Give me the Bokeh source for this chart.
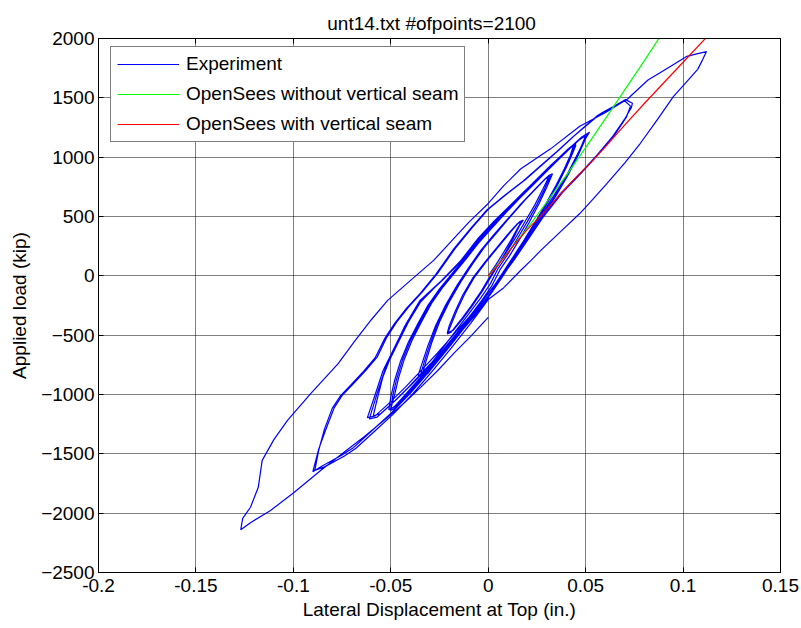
from bokeh.plotting import figure
from bokeh.models import (Range1d, LinearAxis, FixedTicker, CustomJSTickFormatter,
                          Legend, LegendItem)
from bokeh.embed import file_html
from bokeh.resources import INLINE

# ---------------- data ----------------
x_ticks = [-0.2, -0.15, -0.1, -0.05, 0.0, 0.05, 0.1, 0.15]
y_ticks = [-2500, -2000, -1500, -1000, -500, 0, 500, 1000, 1500, 2000]

cycle_1a = [(0.000, 0), (0.004, 95), (0.008, 200), (0.012, 310), (0.015, 400), (0.017, 455),
            (0.015, 440), (0.010, 350), (0.004, 230), (-0.002, 110), (-0.008, -20), (-0.013, -160),
            (-0.017, -300), (-0.020, -420), (-0.021, -480), (-0.018, -460), (-0.013, -360),
            (-0.008, -250), (-0.003, -130), (0.001, -20)]
cycle_1b = [(0.005, 90), (0.009, 200), (0.013, 320), (0.016, 420), (0.018, 470), (0.016, 455),
            (0.011, 360), (0.005, 240), (-0.001, 120), (-0.007, -10), (-0.012, -150), (-0.016, -290),
            (-0.019, -410), (-0.021, -490), (-0.019, -475), (-0.014, -370), (-0.009, -260),
            (-0.004, -140), (0.000, -30)]
cycle_2a = [(0.004, 70), (0.009, 190), (0.014, 320), (0.019, 460), (0.024, 600), (0.028, 730),
            (0.031, 830), (0.029, 815), (0.024, 730), (0.017, 610), (0.010, 480), (0.003, 350),
            (-0.004, 210), (-0.010, 70), (-0.016, -80), (-0.022, -250), (-0.027, -420),
            (-0.031, -590), (-0.034, -740), (-0.036, -840), (-0.033, -820), (-0.028, -710),
            (-0.022, -580), (-0.016, -450), (-0.010, -320), (-0.004, -190), (0.001, -70)]
cycle_2b = [(0.005, 60), (0.010, 180), (0.015, 315), (0.020, 455), (0.025, 600), (0.029, 735),
            (0.032, 845), (0.030, 830), (0.025, 745), (0.018, 625), (0.011, 495), (0.004, 360),
            (-0.003, 225), (-0.009, 85), (-0.015, -65), (-0.021, -235), (-0.026, -405),
            (-0.030, -580), (-0.033, -735), (-0.035, -850), (-0.032, -830), (-0.027, -720),
            (-0.021, -590), (-0.015, -460), (-0.009, -330), (-0.003, -200), (0.002, -80)]
cycle_2c = [(0.006, 50), (0.011, 170), (0.016, 305), (0.021, 450), (0.026, 605), (0.030, 745),
            (0.033, 860), (0.031, 845), (0.026, 760), (0.019, 640), (0.012, 510), (0.005, 375),
            (-0.002, 240), (-0.008, 100), (-0.014, -50), (-0.020, -220), (-0.025, -390),
            (-0.029, -565), (-0.032, -725), (-0.034, -845), (-0.031, -825), (-0.026, -715),
            (-0.020, -585), (-0.014, -455), (-0.008, -325), (-0.002, -195), (0.003, -85)]
cycle_3a = [(0.006, -10), (0.012, 140), (0.018, 290), (0.024, 450), (0.030, 620), (0.035, 770),
            (0.039, 900), (0.042, 1010), (0.044, 1110), (0.041, 1070), (0.035, 975), (0.028, 860),
            (0.021, 745), (0.014, 630), (0.007, 510), (0.000, 385), (-0.007, 255), (-0.013, 130),
            (-0.019, 10), (-0.025, -110), (-0.031, -250), (-0.036, -400), (-0.041, -560),
            (-0.045, -720), (-0.048, -880), (-0.050, -1020), (-0.051, -1130), (-0.048, -1100),
            (-0.042, -990), (-0.035, -860), (-0.028, -720), (-0.021, -580), (-0.014, -440),
            (-0.007, -300), (0.000, -150)]
cycle_3b = [(0.006, -20), (0.012, 130), (0.018, 285), (0.024, 445), (0.030, 615), (0.035, 765),
            (0.039, 895), (0.042, 1005), (0.045, 1115), (0.042, 1080), (0.036, 985), (0.029, 870),
            (0.022, 755), (0.015, 640), (0.008, 520), (0.001, 395), (-0.006, 265), (-0.012, 140),
            (-0.018, 20), (-0.024, -100), (-0.030, -240), (-0.035, -390), (-0.040, -550),
            (-0.044, -710), (-0.047, -870), (-0.049, -1010), (-0.050, -1135), (-0.047, -1105),
            (-0.041, -995), (-0.034, -865), (-0.027, -725), (-0.020, -585), (-0.013, -445),
            (-0.006, -305), (0.001, -160)]
cycle_3c = [(0.007, -15), (0.013, 135), (0.019, 295), (0.025, 460), (0.031, 630), (0.036, 780),
            (0.040, 910), (0.043, 1020), (0.045, 1100), (0.043, 1090), (0.037, 995), (0.030, 880),
            (0.023, 765), (0.016, 650), (0.009, 530), (0.002, 405), (-0.005, 275), (-0.011, 150),
            (-0.017, 30), (-0.023, -90), (-0.029, -230), (-0.034, -380), (-0.039, -540),
            (-0.043, -700), (-0.046, -860), (-0.048, -1000), (-0.050, -1120), (-0.047, -1095),
            (-0.041, -985), (-0.034, -855), (-0.027, -715), (-0.020, -575), (-0.013, -435),
            (-0.006, -295), (0.001, -150)]
cycle_3d = [(0.007, -5), (0.014, 150), (0.021, 320), (0.028, 500), (0.035, 680), (0.041, 850),
            (0.046, 1010), (0.049, 1120), (0.051, 1200), (0.048, 1170), (0.042, 1080), (0.035, 970),
            (0.027, 845), (0.019, 720), (0.011, 590), (0.003, 460), (-0.005, 320), (-0.014, 130),
            (-0.024, -40), (-0.035, -207), (-0.042, -400), (-0.048, -600), (-0.054, -800),
            (-0.058, -1000), (-0.062, -1195), (-0.058, -1180), (-0.050, -1060), (-0.042, -930),
            (-0.034, -790), (-0.026, -650), (-0.018, -500), (-0.010, -350), (-0.002, -190)]
cycle_3e = [(0.005, -40), (0.012, 120), (0.019, 295), (0.026, 475), (0.033, 660), (0.040, 840),
            (0.045, 1000), (0.049, 1130), (0.052, 1210), (0.049, 1180), (0.043, 1090), (0.036, 980),
            (0.028, 855), (0.020, 730), (0.012, 600), (0.004, 470), (-0.004, 330), (-0.013, 140),
            (-0.023, -30), (-0.034, -200), (-0.041, -390), (-0.047, -590), (-0.053, -790),
            (-0.057, -990), (-0.061, -1205), (-0.057, -1190), (-0.049, -1070), (-0.041, -940),
            (-0.033, -800), (-0.025, -660), (-0.017, -510), (-0.009, -360), (-0.001, -200)]
cycle_3f = [(0.006, -30), (0.013, 130), (0.020, 305), (0.027, 485), (0.034, 665), (0.040, 830),
            (0.045, 990), (0.048, 1100), (0.050, 1180), (0.047, 1150), (0.040, 1050), (0.032, 930),
            (0.024, 800), (0.016, 670), (0.008, 540), (0.000, 400), (-0.008, 240), (-0.017, 70),
            (-0.027, -90), (-0.037, -260), (-0.043, -430), (-0.049, -640), (-0.054, -850),
            (-0.057, -1040), (-0.059, -1180), (-0.055, -1160), (-0.047, -1040), (-0.039, -910),
            (-0.031, -775), (-0.023, -635), (-0.015, -490), (-0.007, -340), (0.000, -185)]
cycle_4a = [(0.007, 0), (0.013, 150), (0.020, 310), (0.027, 480), (0.037, 693), (0.047, 860),
            (0.056, 1022), (0.064, 1177), (0.070, 1320), (0.0735, 1420), (0.074, 1455),
            (0.0705, 1485), (0.064, 1425), (0.0577, 1367), (0.051, 1275), (0.044, 1177),
            (0.036, 1055), (0.027, 925), (0.019, 810), (0.010, 695), (0.000, 560), (-0.008, 410),
            (-0.017, 230), (-0.026, 20), (-0.034, -140), (-0.041, -265), (-0.047, -390),
            (-0.052, -516), (-0.057, -685), (-0.063, -800), (-0.069, -905), (-0.075, -1010),
            (-0.079, -1110), (-0.083, -1280), (-0.087, -1460), (-0.090, -1650), (-0.085, -1600),
            (-0.075, -1510), (-0.069, -1446), (-0.060, -1310), (-0.050, -1160), (-0.040, -990),
            (-0.030, -800), (-0.020, -600), (-0.010, -390), (0.000, -170)]
cycle_4b = [(0.008, 10), (0.014, 160), (0.021, 320), (0.028, 490), (0.038, 700), (0.048, 870),
            (0.057, 1035), (0.065, 1190), (0.071, 1340), (0.073, 1430), (0.070, 1475),
            (0.063, 1415), (0.056, 1350), (0.050, 1265), (0.043, 1165), (0.035, 1045),
            (0.026, 915), (0.018, 800), (0.009, 685), (-0.001, 550), (-0.009, 400), (-0.018, 220),
            (-0.027, 10), (-0.035, -150), (-0.042, -275), (-0.048, -400), (-0.053, -525),
            (-0.058, -690), (-0.064, -805), (-0.070, -910), (-0.076, -1015), (-0.080, -1115),
            (-0.084, -1290), (-0.087, -1470), (-0.089, -1640), (-0.084, -1610), (-0.074, -1520),
            (-0.068, -1455), (-0.059, -1320), (-0.049, -1170), (-0.039, -1000), (-0.029, -810),
            (-0.019, -610), (-0.009, -400), (0.000, -200)]
cycle_5 = [(0.008, -100), (0.0166, 45), (0.022, 130), (0.027, 214), (0.037, 370), (0.047, 525),
           (0.054, 650), (0.061, 780), (0.070, 950), (0.078, 1115), (0.087, 1320), (0.095, 1510),
           (0.101, 1620), (0.1075, 1740), (0.110, 1820), (0.112, 1890), (0.107, 1870),
           (0.102, 1850), (0.092, 1750), (0.082, 1650), (0.0715, 1490), (0.060, 1375),
           (0.047, 1260), (0.032, 1070), (0.0166, 900), (0.008, 760), (0.000, 610),
           (-0.010, 450), (-0.019, 290), (-0.028, 130), (-0.040, -40), (-0.0516, -207),
           (-0.060, -370), (-0.069, -560), (-0.077, -740), (-0.091, -990), (-0.103, -1218),
           (-0.110, -1380), (-0.116, -1555), (-0.118, -1782), (-0.122, -1950), (-0.126, -2044),
           (-0.127, -2140), (-0.122, -2080), (-0.1117, -1977), (-0.100, -1830), (-0.086, -1640),
           (-0.075, -1500), (-0.064, -1360), (-0.0516, -1193), (-0.043, -1070), (-0.0347, -940),
           (-0.026, -800), (-0.0178, -655), (-0.009, -510), (0.000, -350)]

no_seam_x = [0.0, 0.01, 0.02, 0.03, 0.04, 0.05, 0.06, 0.07, 0.08, 0.09]
no_seam_y = [0, 195, 400, 620, 845, 1080, 1320, 1565, 1810, 2060]

seam_x = [0.0, 0.005, 0.012, 0.02, 0.027, 0.035, 0.045, 0.053, 0.06, 0.07, 0.08, 0.09, 0.1, 0.112]
seam_y = [0, 90, 235, 390, 505, 650, 830, 960, 1085, 1270, 1450, 1625, 1800, 2010]

cycles = [cycle_1a, cycle_1b, cycle_2a, cycle_2b, cycle_2c, cycle_3a, cycle_3b, cycle_3c,
          cycle_3d, cycle_3e, cycle_3f, cycle_4a, cycle_4b, cycle_5]
exp_x = [pt[0] for c in cycles for pt in c]
exp_y = [pt[1] for c in cycles for pt in c]

# ---------------- figure ----------------
FONT = "Liberation Sans"
FS = "19px"

p = figure(width=801, height=628, output_backend="svg", toolbar_location=None,
           x_range=Range1d(-0.2, 0.15), y_range=Range1d(-2500, 2000),
           min_border_left=98, min_border_right=21, min_border_top=38, min_border_bottom=56,
           background_fill_color="white", border_fill_color="white")

p.title.text = "unt14.txt    #ofpoints=2100"
p.title.align = "center"
p.title.text_font = FONT
p.title.text_font_size = FS
p.title.text_font_style = "normal"
p.title.text_color = "black"

p.add_layout(LinearAxis(), "above")
p.add_layout(LinearAxis(), "right")

fmt = CustomJSTickFormatter(code="return String(Math.round(tick*100)/100);")
for ax in p.xaxis:
    ax.ticker = FixedTicker(ticks=x_ticks)
    ax.formatter = fmt
for ax in p.yaxis:
    ax.ticker = FixedTicker(ticks=y_ticks)

for ax in list(p.xaxis) + list(p.yaxis):
    ax.major_tick_in = 5
    ax.major_tick_out = 0
    ax.minor_tick_in = 0
    ax.minor_tick_out = 0
    ax.axis_line_color = "black"
    ax.major_tick_line_color = "black"
    ax.major_label_text_font = FONT
    ax.major_label_text_font_size = FS
    ax.major_label_text_color = "black"
    ax.axis_label_text_font = FONT
    ax.axis_label_text_font_size = FS
    ax.axis_label_text_font_style = "normal"
    ax.axis_label_text_color = "black"

p.above[-1].major_label_text_font_size = "0px"
p.above[-1].major_label_standoff = 0
p.right[-1].major_label_text_font_size = "0px"
p.right[-1].major_label_standoff = 0

p.below[0].axis_label = "Lateral Displacement at Top (in.)"
p.below[0].major_label_standoff = 6
p.below[0].axis_label_standoff = 4
p.left[0].axis_label = "Applied load (kip)"
p.left[0].major_label_standoff = 4
p.left[0].axis_label_standoff = 8

p.xgrid.ticker = FixedTicker(ticks=x_ticks)
p.ygrid.ticker = FixedTicker(ticks=y_ticks)
for g in (p.xgrid[0], p.ygrid[0]):
    g.grid_line_color = "black"
    g.grid_line_dash = "1 1"
    g.grid_line_width = 1

p.outline_line_color = "black"
p.outline_line_width = 1

r_exp = p.line(exp_x, exp_y, line_color="#0000ff", line_width=1.2)
r_ns = p.line(no_seam_x, no_seam_y, line_color="#00ff00", line_width=1.2)
r_s = p.line(seam_x, seam_y, line_color="#ff0000", line_width=1.2)

legend = Legend(items=[LegendItem(label="Experiment", renderers=[r_exp]),
                       LegendItem(label="OpenSees without vertical seam", renderers=[r_ns]),
                       LegendItem(label="OpenSees with vertical seam", renderers=[r_s])],
                location=(12, 430), padding=6, spacing=8, margin=0,
                glyph_width=62, glyph_height=22, label_height=22, label_standoff=7,
                label_text_font=FONT, label_text_font_size=FS, label_text_color="black",
                border_line_color="black", border_line_width=1.5,
                background_fill_color="white", background_fill_alpha=1.0)
p.add_layout(legend)

open("out.html", "w").write(file_html(p, INLINE))
